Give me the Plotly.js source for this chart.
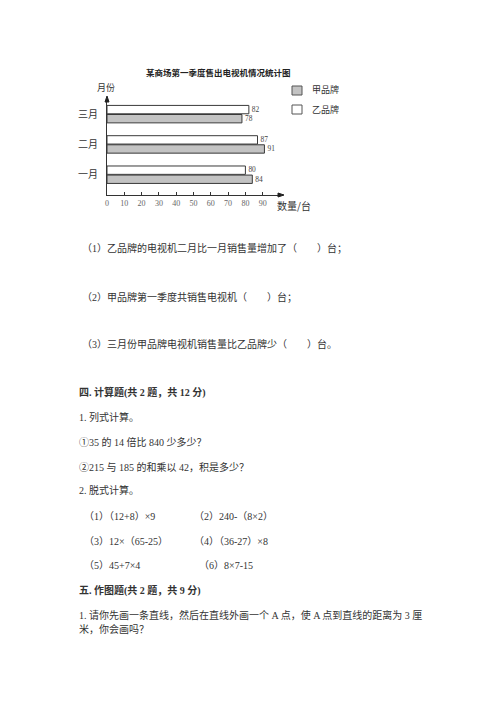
<!DOCTYPE html>
<html>
<head>
<meta charset="utf-8">
<script src="https://cdn.plot.ly/plotly-3.0.1.min.js"></script>
<style>
  html, body { margin: 0; padding: 0; background: #fff; }
  #page { width: 500px; height: 707px; }
</style>
</head>
<body>
<div id="page"></div>
<script>
// ── 数据 ──
const months  = ['一月', '二月', '三月'];
const brandA  = [84, 91, 78];   // 甲品牌
const brandB  = [80, 87, 82];   // 乙品牌
const seriesNames = ['甲品牌', '乙品牌'];
const xTicks  = [0, 10, 20, 30, 40, 50, 60, 70, 80, 90];

const W = 500, H = 707;
const px = x => x / W;
const py = y => (H - y) / H;

const CJK   = '"Liberation Serif", "Noto Sans CJK SC", serif';
const SANS  = '"Noto Sans CJK SC", sans-serif';
const INK   = '#333';

// 题目文字（页面排版）
const lines = [
    { t: '（1）乙品牌的电视机二月比一月销售量增加了（　　）台；', x: 80, y: 248 },
    { t: '（2）甲品牌第一季度共销售电视机（　　）台；',           x: 80, y: 297 },
    { t: '（3）三月份甲品牌电视机销售量比乙品牌少（　　）台。',   x: 80, y: 344 },
    { t: '<b>四. 计算题(共 2 题，共 12 分)</b>',                   x: 77, y: 392 },
    { t: '1. 列式计算。',                                          x: 77, y: 417 },
    { t: '①35 的 14 倍比 840 少多少？',                            x: 77, y: 442 },
    { t: '②215 与 185 的和乘以 42，积是多少？',                    x: 77, y: 467 },
    { t: '2. 脱式计算。',                                          x: 77, y: 490 },
    { t: '（1）（12+8）×9',                                        x: 82, y: 516 },
    { t: '（2）240-（8×2）',                                       x: 192, y: 516 },
    { t: '（3）12×（65-25）',                                      x: 82, y: 541 },
    { t: '（4）（36-27）×8',                                       x: 192, y: 541 },
    { t: '（5）45+7×4',                                            x: 82, y: 565 },
    { t: '（6）8×7-15',                                            x: 197, y: 565 },
    { t: '<b>五. 作图题(共 2 题，共 9 分)</b>',                    x: 77, y: 590 },
    { t: '1. 请你先画一条直线，然后在直线外画一个 A 点，使 A 点到直线的距离为 3 厘', x: 77, y: 615 },
    { t: '米，你会画吗？',                                         x: 77, y: 629 },
];

const barLine = { color: '#3a3a3a', width: 1 };

const traces = [
    {
        type: 'bar', orientation: 'h', name: seriesNames[0],
        y: months, x: brandA, text: brandA.map(String),
        textposition: 'outside', cliponaxis: false,
        textfont: { size: 8, family: CJK, color: '#444' },
        marker: { color: '#c3c3c3', line: barLine },
        hoverinfo: 'skip', showlegend: false,
    },
    {
        type: 'bar', orientation: 'h', name: seriesNames[1],
        y: months, x: brandB, text: brandB.map(String),
        textposition: 'outside', cliponaxis: false,
        textfont: { size: 8, family: CJK, color: '#444' },
        marker: { color: '#ffffff', line: barLine },
        hoverinfo: 'skip', showlegend: false,
    },
];

const annotations = lines.map(l => ({
    xref: 'paper', yref: 'paper', x: px(l.x), y: py(l.y),
    xanchor: 'left', yanchor: 'middle', showarrow: false,
    text: l.t, font: { size: 10, family: CJK, color: INK },
}));

// 图表标题与轴名
annotations.push(
    { xref: 'paper', yref: 'paper', x: px(218), y: py(72), xanchor: 'center', yanchor: 'middle',
      showarrow: false, text: '<b>某商场第一季度售出电视机情况统计图</b>',
      font: { size: 8.5, family: SANS, color: '#222' } },
    { xref: 'paper', yref: 'paper', x: px(106), y: py(88), xanchor: 'center', yanchor: 'middle',
      showarrow: false, text: '月份', font: { size: 9, family: SANS, color: INK } },
    { xref: 'paper', yref: 'paper', x: px(275), y: py(205), xanchor: 'left', yanchor: 'middle',
      showarrow: false, text: '数量/台', font: { size: 10, family: SANS, color: INK } },
    { xref: 'paper', yref: 'paper', x: px(310), y: py(89), xanchor: 'left', yanchor: 'middle',
      showarrow: false, text: seriesNames[0], font: { size: 9, family: SANS, color: INK } },
    { xref: 'paper', yref: 'paper', x: px(310), y: py(109), xanchor: 'left', yanchor: 'middle',
      showarrow: false, text: seriesNames[1], font: { size: 9, family: SANS, color: INK } },
);

// 图例方块 + 坐标轴箭头
const tri = (pts) => 'M' + pts.map(p => px(p[0]) + ',' + py(p[1])).join(' L') + ' Z';
const shapes = [
    { type: 'rect', xref: 'paper', yref: 'paper', x0: px(292), x1: px(302), y0: py(86), y1: py(95),
      fillcolor: '#c3c3c3', line: { color: '#555', width: 1 } },
    { type: 'rect', xref: 'paper', yref: 'paper', x0: px(292), x1: px(302), y0: py(105), y1: py(114),
      fillcolor: '#ffffff', line: { color: '#555', width: 1 } },
    { type: 'path', xref: 'paper', yref: 'paper', path: tri([[107, 96], [105, 102], [109, 102]]),
      fillcolor: '#222', line: { color: '#222', width: 1 } },
    { type: 'path', xref: 'paper', yref: 'paper', path: tri([[284, 195], [278, 193], [278, 197]]),
      fillcolor: '#222', line: { color: '#222', width: 1 } },
];

const layout = {
    width: W, height: H,
    margin: { t: 0, r: 0, b: 0, l: 0 },
    paper_bgcolor: '#fff', plot_bgcolor: '#fff',
    barmode: 'group', bargap: 0.4, bargroupgap: 0.08,
    showlegend: false,
    xaxis: {
        domain: [px(107), px(280)], range: [0, 100],
        tickvals: xTicks, ticktext: xTicks.map(String),
        ticks: 'inside', ticklen: 3, tickcolor: '#333',
        showline: true, linecolor: '#333', linewidth: 1,
        showgrid: false, zeroline: false,
        tickfont: { size: 8, family: CJK, color: '#666' },
    },
    yaxis: {
        domain: [py(195), py(99)], range: [-0.67, 2.5],
        type: 'category', categoryorder: 'array', categoryarray: months,
        ticks: '', showline: true, linecolor: '#333', linewidth: 1,
        showgrid: false, zeroline: false, ticklabelstandoff: 6,
        tickfont: { size: 10, family: SANS, color: INK },
    },
    annotations, shapes,
};

Plotly.newPlot('page', traces, layout, { displayModeBar: false, staticPlot: true });
</script>
</body>
</html>
